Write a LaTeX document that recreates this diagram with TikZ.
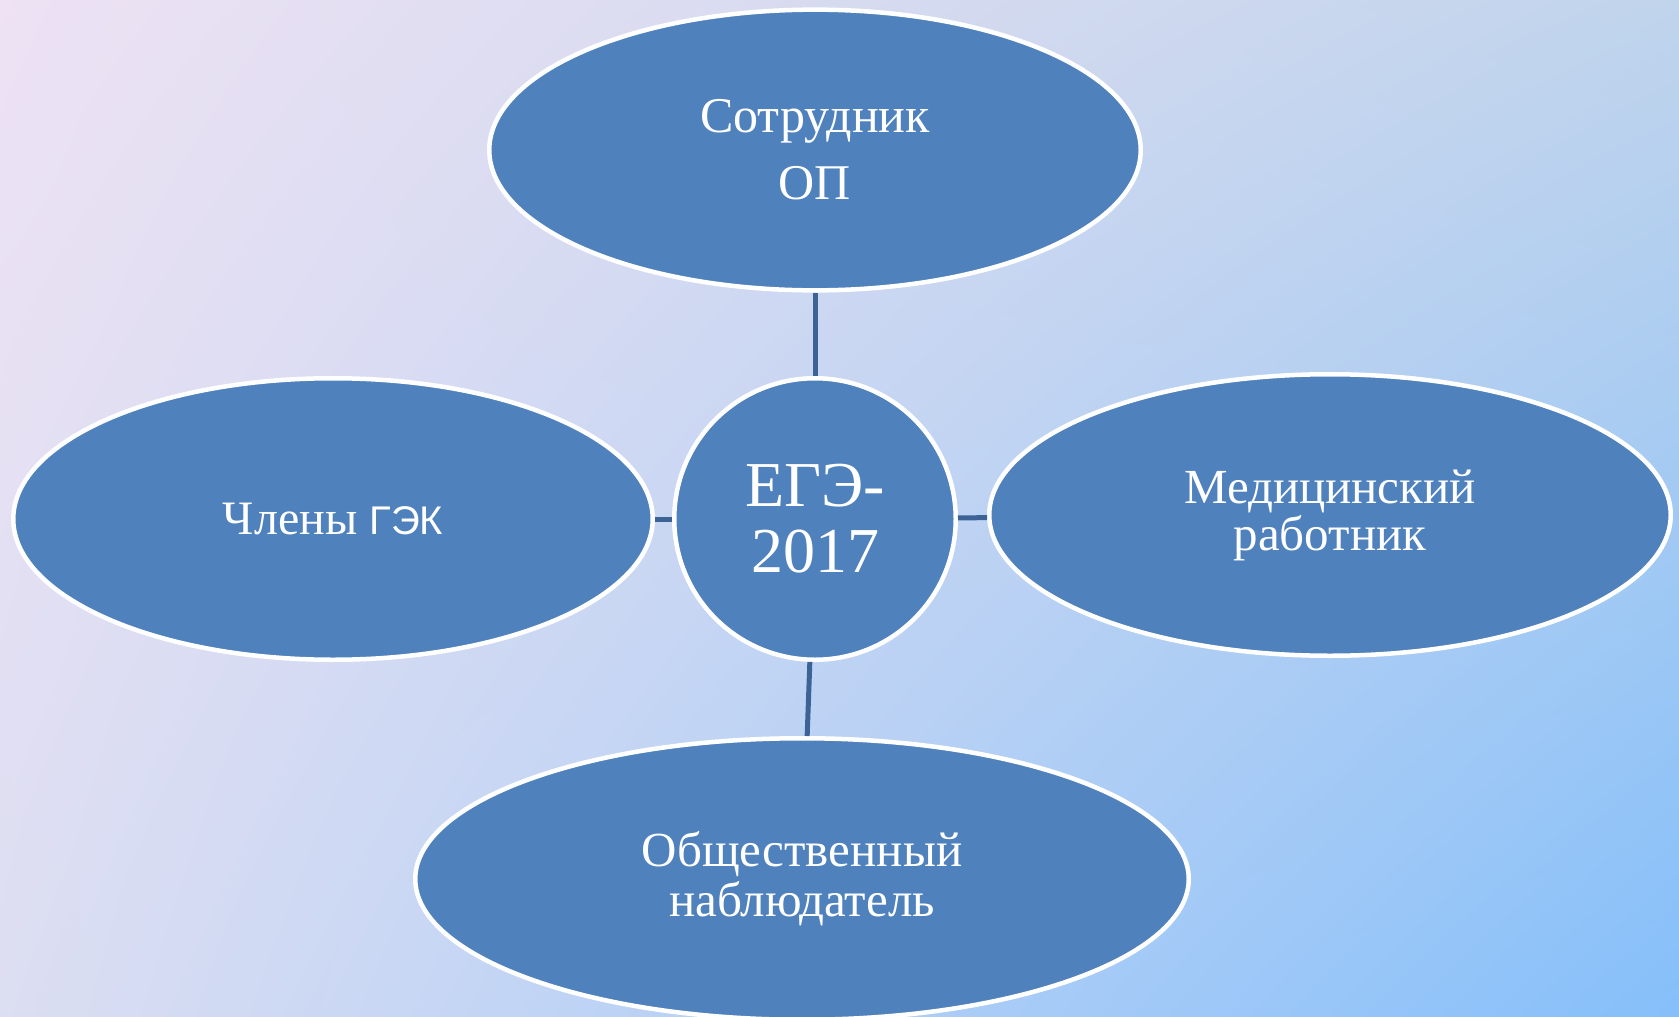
\documentclass[tikz,border=0pt]{standalone}
\usepackage{fontspec}
\setmainfont{Liberation Serif}
\newfontfamily\sansf{Liberation Sans}
\usetikzlibrary{shapes.geometric}
\definecolor{nodefill}{HTML}{4F81BD}
\definecolor{linkcol}{HTML}{3C6296}
\pgfdeclarefunctionalshading{bgshade}{\pgfpoint{0bp}{0bp}}{\pgfpoint{100bp}{100bp}}{}{
  25 sub 50 div exch 25 sub 50 div exch
  1 index 1 index mul 0.161 mul 2 index -0.341 mul add 1 index 0.070 mul add 0.863 add
  3 1 roll
  1 index 1 index mul 0.067 mul 2 index -0.122 mul add 1 index 0.015 mul add 0.871 add
  3 1 roll
  1 index 1 index mul -0.063 mul 2 index 0.031 mul add 1 index 0.008 mul add 0.949 add
  3 1 roll pop pop
}
\tikzset{
  bubble/.style={ellipse, draw=white, line width=4.5pt, fill=nodefill, inner sep=0pt,
    text=white, align=center},
  hub/.style={circle, draw=white, line width=4.5pt, fill=nodefill, inner sep=0pt,
    text=white, align=center, minimum size=281.5pt},
  link/.style={draw=linkcol, line width=5pt}
}
\begin{document}
\begin{tikzpicture}[x=1pt,y=-1pt]
\useasboundingbox (0,0) rectangle (1679,1017);
\shade[shading=bgshade] (0,0) rectangle (1679,1017);
\node[bubble, minimum width=651.5pt, minimum height=280.7pt,
  font=\fontsize{50}{67}\selectfont] (t) at (815,150) {Сотрудник\\ОП};
\node[bubble, minimum width=639.5pt, minimum height=281.5pt,
  font=\fontsize{48}{58}\selectfont] (l) at (333,519) {Члены {\sansf\fontsize{40}{48}\selectfont ГЭК}};
\node[bubble, minimum width=681.5pt, minimum height=281.5pt,
  font=\fontsize{49}{47}\selectfont] (r) at (1330,515) {Медицинский\\работник};
\node[bubble, minimum width=773.5pt, minimum height=281.5pt,
  font=\fontsize{49}{50}\selectfont] (b) at (802,879) {Общественный\\наблюдатель};
\node[hub, font=\fontsize{64}{66}\selectfont] (c) at (815,519) {ЕГЭ-\\2017};
\draw[link] (c) -- (t);
\draw[link] (c) -- (l);
\draw[link] (c) -- (r);
\draw[link] (c) -- (b);
\end{tikzpicture}
\end{document}
